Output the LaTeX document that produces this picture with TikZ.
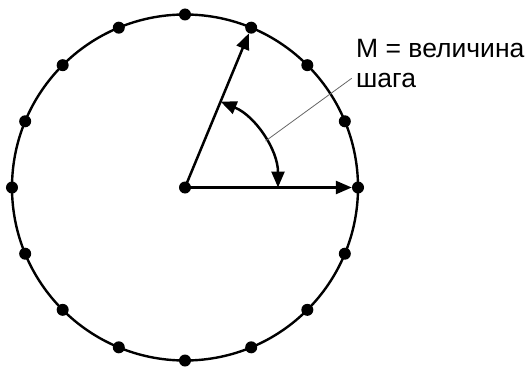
\documentclass[tikz,border=0pt]{standalone}
\usepackage{fontspec}
\setmainfont{Liberation Sans}
\usetikzlibrary{arrows.meta}
\begin{document}
\begin{tikzpicture}[x=1pt,y=1pt,
  dot/.style={circle,fill=black,inner sep=0pt,minimum size=12pt},
  ring/.style={line width=2.4pt},
  arr/.style={line width=2.5pt,-{Triangle[length=16pt,width=13pt]}},
  darr/.style={line width=2.5pt,{Triangle[length=16pt,width=13pt]}-{Triangle[length=16pt,width=13pt]}},
  leader/.style={line width=0.8pt,draw=black!60},
  lbl/.style={inner sep=0pt,align=left,font=\fontsize{26.5}{29.4}\selectfont}]
\useasboundingbox (-185,-179.5) rectangle (341,187.5);
\draw[ring] (0,0) circle (173);
\foreach \i in {0,...,15}{
  \node[dot] (d\i) at (\i*22.5:173) {};
}
\node[dot] (c) at (0,0) {};
\draw[arr] (c.center) -- (d0);
\draw[arr] (c.center) -- (d3);
\draw[darr] (67.5:93) arc[start angle=67.5,end angle=0,radius=93];
\coordinate (ap) at (30:93);
\node[lbl,anchor=north west] (txt) at (171,148.2) {M = величина\\шага};
\coordinate (le) at (166.7,109.2);
\draw[leader] (ap) -- (le);
\end{tikzpicture}
\end{document}
